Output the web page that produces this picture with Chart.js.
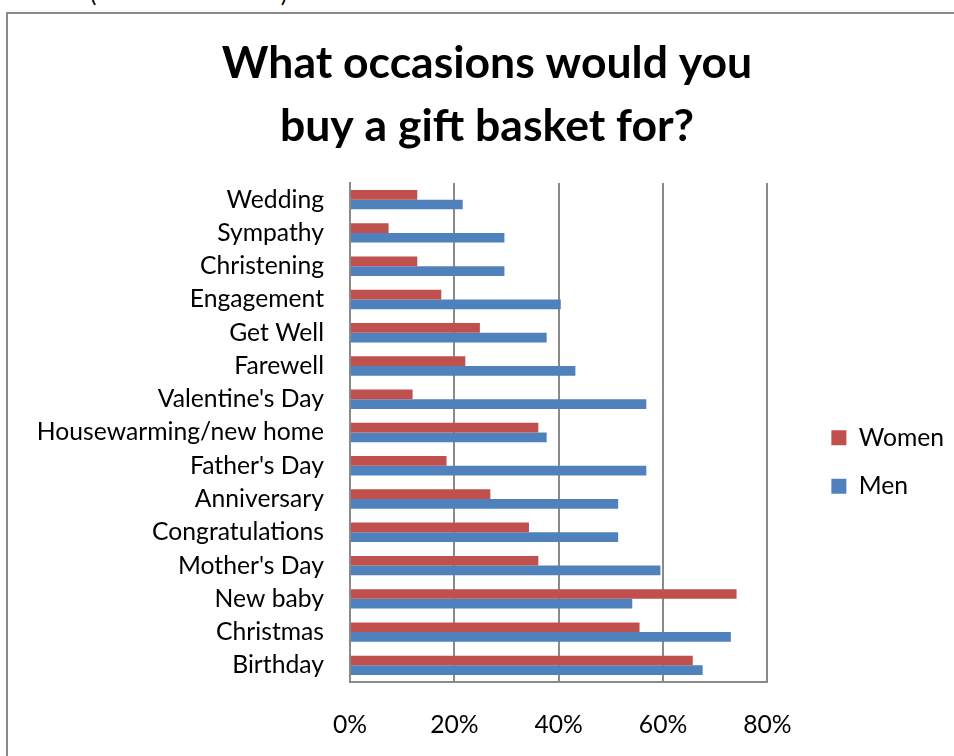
<!DOCTYPE html>
<html>
<head>
<meta charset="utf-8">
<script src="https://cdn.jsdelivr.net/npm/chart.js@4/dist/chart.umd.min.js"></script>
<style>
  html, body { margin: 0; padding: 0; background: #fff; }
  #wrap { position: relative; width: 954px; height: 756px; overflow: hidden; }
  #frame { position: absolute; left: 6px; top: 12px; width: 1000px; height: 800px;
           border: 2px solid #8a8a8a; box-sizing: border-box; }
  #cap { position: absolute; left: 90px; top: -22px; font: 24px Lato, sans-serif; color: #000;
         white-space: pre; }
  canvas { position: absolute; left: 0; top: 0; }
</style>
</head>
<body>
<div id="wrap">
  <div id="cap">(                              )</div>
  <div id="frame"></div>
  <canvas id="c" width="954" height="756"></canvas>
</div>
<script>
// Survey answers, top row first
const occasions = [
  "Wedding", "Sympathy", "Christening", "Engagement", "Get Well", "Farewell",
  "Valentine's Day", "Housewarming/new home", "Father's Day", "Anniversary",
  "Congratulations", "Mother's Day", "New baby", "Christmas", "Birthday"
];
const women = [12.9, 7.4, 12.9, 17.5, 24.9, 22.1, 12.0, 36.1, 18.5, 26.9, 34.3, 36.1, 74.1, 55.5, 65.7];
const men   = [21.6, 29.6, 29.6, 40.4, 37.7, 43.2, 56.8, 37.7, 56.8, 51.4, 51.4, 59.5, 54.1, 73.0, 67.6];
const percentTicks = [0, 20, 40, 60, 80];
const titleLines = ["What occasions would you", "buy a gift basket for?"];

const GRID = '#8a8a8a';
const FONT = 'Lato';

// place the legend column beside the middle rows and nudge the title to the right
const boxOffsets = {
  id: 'boxOffsets',
  afterLayout(chart) {
    const lg = chart.legend;
    if (lg) {
      lg.left += 40; lg.right += 40;
      lg.top += 84; lg.bottom += 84;
    }
    const tb = chart.titleBlock;
    if (tb) { tb.left += 20; tb.right += 20; }
  }
};

new Chart(document.getElementById('c'), {
  type: 'bar',
  data: {
    labels: occasions,
    datasets: [
      { label: 'Women', data: women, backgroundColor: '#C0504D', borderWidth: 0 },
      { label: 'Men', data: men, backgroundColor: '#4F81BD', borderWidth: 0 }
    ]
  },
  options: {
    indexAxis: 'y',
    responsive: false,
    animation: false,
    maintainAspectRatio: false,
    datasets: { bar: { categoryPercentage: 0.583, barPercentage: 1.0 } },
    layout: { padding: { left: 20, right: 40, top: 0, bottom: 0 } },
    plugins: {
      tooltip: { enabled: false },
      title: {
        display: true,
        text: titleLines,
        color: '#000',
        font: { family: FONT, size: 44.5, weight: 'bold', lineHeight: 1.416 },
        padding: { top: 32.5, bottom: 24.5 }
      },
      legend: {
        position: 'right',
        labels: {
          color: '#000',
          font: { family: FONT, size: 24.7 },
          boxWidth: 15,
          boxHeight: 15,
          padding: 24
        }
      }
    },
    scales: {
      x: {
        min: 0,
        max: 80,
        afterBuildTicks(scale) { scale.ticks = percentTicks.map(v => ({ value: v })); },
        afterFit(scale) { scale.height = 74; },
        ticks: {
          color: '#000',
          font: { family: FONT, size: 24.7 },
          padding: 28,
          callback: v => v + '%'
        },
        grid: { color: GRID, lineWidth: 2, drawTicks: false },
        border: { display: true, color: GRID, width: 2 }
      },
      y: {
        afterFit(scale) { scale.width = 330; },
        ticks: {
          color: '#000',
          font: { family: FONT, size: 24.7 },
          padding: 26
        },
        grid: { display: false, drawTicks: false },
        border: { display: true, color: GRID, width: 2 }
      }
    }
  },
  plugins: [boxOffsets]
});
</script>
</body>
</html>
